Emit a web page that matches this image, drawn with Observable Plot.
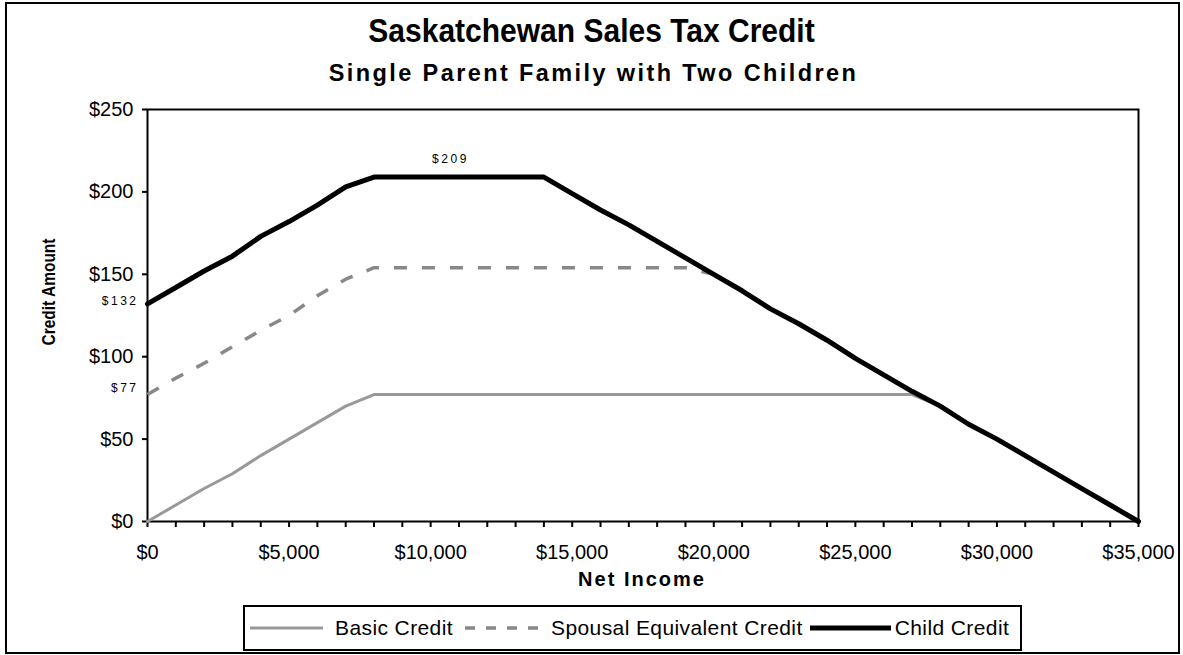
<!DOCTYPE html>
<html>
<head>
<meta charset="utf-8">
<script src="https://cdn.jsdelivr.net/npm/d3@7"></script>
<script src="https://cdn.jsdelivr.net/npm/@observablehq/plot@0.6"></script>
<style>
  html, body { margin: 0; padding: 0; background: #fff; }
  body { font-family: Arial, "Liberation Sans", sans-serif; color: #000; }
  #wrap { position: relative; width: 1183px; height: 655px; overflow: hidden; }
  #border { position: absolute; left: 5px; top: 2px; width: 1175px; height: 652px; border: 2px solid #000; box-sizing: border-box; }
  #title { position: absolute; left: 0; width: 1183px; top: 13px; text-align: center; font-weight: bold; font-size: 30px; line-height: 36px; transform: scaleY(1.08); }
  #subtitle { position: absolute; left: 2px; width: 1183px; top: 59px; text-align: center; font-weight: bold; font-size: 23.5px; line-height: 28px; letter-spacing: 2.4px; }
  #ylabel { position: absolute; left: 49px; top: 292px; transform: translate(-50%, -50%) rotate(-90deg) scaleX(0.86); font-weight: bold; font-size: 18px; white-space: nowrap; }
  #xlabel { position: absolute; left: 642px; top: 579px; transform: translate(-50%, -50%); font-weight: bold; font-size: 20px; letter-spacing: 2px; white-space: nowrap; }
  #legend { position: absolute; left: 243px; top: 605px; width: 779px; height: 46px; border: 2px solid #000; box-sizing: border-box; display: flex; align-items: center; padding-left: 5px; font-size: 21px; letter-spacing: 0.4px; white-space: nowrap; }
  #legend .item { display: flex; align-items: center; }
  #legend svg { display: block; }
  #chart { position: absolute; left: 0; top: 0; }
  #chart g[aria-label="text"] text { letter-spacing: 2.5px; }
</style>
</head>
<body>
<div id="wrap">
  <div id="chart"></div>
  <div id="border"></div>
  <div id="title">Saskatchewan Sales Tax Credit</div>
  <div id="subtitle">Single Parent Family with Two Children</div>
  <div id="ylabel">Credit Amount</div>
  <div id="xlabel">Net Income</div>
  <div id="legend"></div>
</div>
<script>
// ---- data ----
const income = [0, 1000, 2000, 3000, 4000, 5000, 6000, 7000, 8000, 9000,
  10000, 11000, 12000, 13000, 14000, 15000, 16000, 17000, 18000, 19000,
  20000, 21000, 22000, 23000, 24000, 25000, 26000, 27000, 28000, 29000,
  30000, 31000, 32000, 33000, 34000, 35000];
const basicCredit = [0, 10, 20, 29, 40, 50, 60, 70, 77, 77,
  77, 77, 77, 77, 77, 77, 77, 77, 77, 77,
  77, 77, 77, 77, 77, 77, 77, 77, 70, 59,
  50, 40, 30, 20, 10, 0];
const spousalCredit = [77, 87, 96, 106, 116, 125, 137, 147, 154, 154,
  154, 154, 154, 154, 154, 154, 154, 154, 154, 154,
  150, 140, 129, 120, 110, 99, 89, 79, 70, 59,
  50, 40, 30, 20, 10, 0];
const childCredit = [132, 142, 152, 161, 173, 182, 192, 203, 209, 209,
  209, 209, 209, 209, 209, 199, 189, 180, 170, 160,
  150, 140, 129, 120, 110, 99, 89, 79, 70, 59,
  50, 40, 30, 20, 10, 0];
const seriesNames = ["Basic Credit", "Spousal Equivalent Credit", "Child Credit"];
const xTicks = [0, 1000, 2000, 3000, 4000, 5000, 6000, 7000, 8000, 9000,
  10000, 11000, 12000, 13000, 14000, 15000, 16000, 17000, 18000, 19000,
  20000, 21000, 22000, 23000, 24000, 25000, 26000, 27000, 28000, 29000,
  30000, 31000, 32000, 33000, 34000, 35000];
const xLabelTicks = [0, 5000, 10000, 15000, 20000, 25000, 30000, 35000];
const yTicks = [0, 50, 100, 150, 200, 250];
const labelText = ["$209", "$132", "$77"];
const labelIncome = [10700, 0, 0];
const labelValue = [209, 132, 77];

// ---- styles ----
const styles = {
  "Basic Credit": {stroke: "#999999", strokeWidth: 3, dash: null, legendDash: null, swatch: 73, gapBefore: 0, gapAfter: 12},
  "Spousal Equivalent Credit": {stroke: "#888888", strokeWidth: 3.5, dash: "13,15", legendDash: "10,11", swatch: 82, gapBefore: 12, gapAfter: 4},
  "Child Credit": {stroke: "#000000", strokeWidth: 5, dash: null, legendDash: null, swatch: 81, gapBefore: 7, gapAfter: 4}
};
const labelStyle = [
  {dx: 0, dy: -18, anchor: "middle"},
  {dx: -9, dy: -3, anchor: "end"},
  {dx: -9, dy: -6, anchor: "end"}
];

const rows = (vals) => income.map((x, i) => ({income: x, value: vals[i]}));
const fmt = d3.format(",");

const chart = Plot.plot({
  width: 1183,
  height: 655,
  marginTop: 109,
  marginLeft: 147,
  marginRight: 45,
  marginBottom: 134,
  style: {fontFamily: 'Arial, "Liberation Sans", sans-serif', fontSize: "20px", color: "#000", background: "transparent", overflow: "visible"},
  x: {domain: [0, 35000]},
  y: {domain: [0, 250]},
  marks: [
    Plot.axisX({ticks: xTicks, tickSize: 6, tickPadding: 17, strokeWidth: 2,
      tickFormat: d => xLabelTicks.includes(d) ? "$" + fmt(d) : "", label: null}),
    Plot.axisY({ticks: yTicks, tickSize: 5, tickPadding: 9, strokeWidth: 2,
      tickFormat: d => "$" + d, label: null}),
    Plot.frame({stroke: "#000", strokeWidth: 2}),
    Plot.lineY(rows(basicCredit), {x: "income", y: "value", stroke: styles["Basic Credit"].stroke, strokeWidth: styles["Basic Credit"].strokeWidth}),
    Plot.lineY(rows(spousalCredit), {x: "income", y: "value", stroke: styles["Spousal Equivalent Credit"].stroke, strokeWidth: styles["Spousal Equivalent Credit"].strokeWidth, strokeDasharray: styles["Spousal Equivalent Credit"].dash, strokeLinecap: "butt"}),
    Plot.lineY(rows(childCredit), {x: "income", y: "value", stroke: styles["Child Credit"].stroke, strokeWidth: styles["Child Credit"].strokeWidth}),
    ...labelText.map((t, i) => Plot.text([{income: labelIncome[i], value: labelValue[i], text: t}],
      {x: "income", y: "value", text: "text", dx: labelStyle[i].dx, dy: labelStyle[i].dy,
       fontSize: 12, textAnchor: labelStyle[i].anchor, fill: "#000"}))
  ]
});
document.getElementById("chart").appendChild(chart);

// ---- legend ----
const legend = d3.select("#legend");
seriesNames.forEach(name => {
  const s = styles[name];
  const item = legend.append("div").attr("class", "item").style("margin-left", s.gapBefore + "px");
  const svg = item.append("svg").attr("width", s.swatch).attr("height", 10).style("margin-right", s.gapAfter + "px");
  svg.append("line").attr("x1", 0).attr("x2", s.swatch).attr("y1", 5).attr("y2", 5)
    .attr("stroke", s.stroke).attr("stroke-width", s.strokeWidth)
    .attr("stroke-dasharray", s.legendDash)
    .attr("stroke-linecap", "butt");
  item.append("span").text(name);
});
</script>
</body>
</html>
